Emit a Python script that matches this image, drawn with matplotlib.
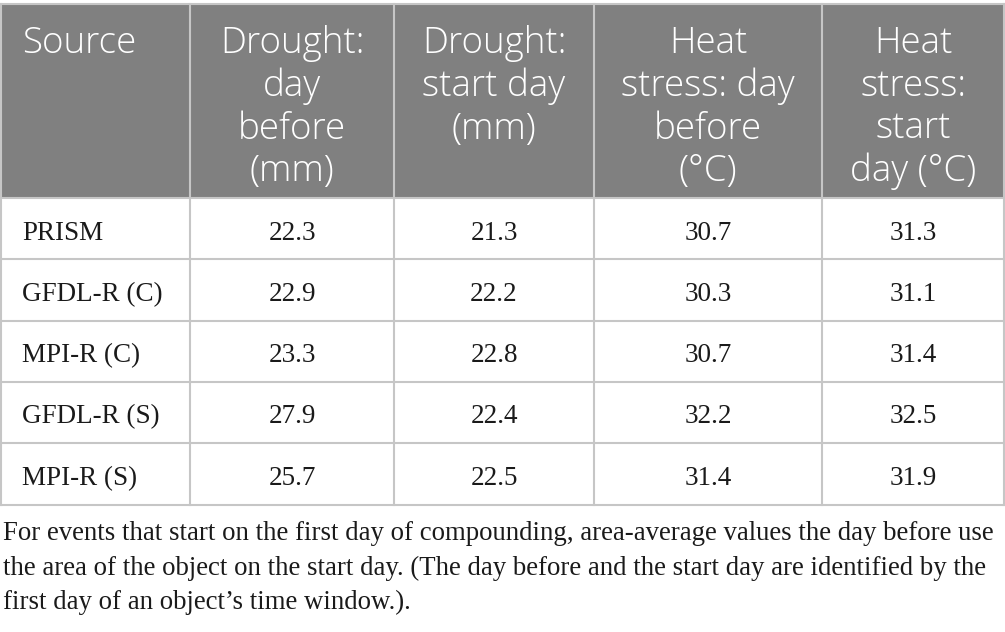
import matplotlib.pyplot as plt
from matplotlib.patches import Rectangle

headers = ["Source", "Drought:\nday\nbefore\n(mm)", "Drought:\nstart day\n(mm)",
           "Heat\nstress: day\nbefore\n(°C)", "Heat\nstress:\nstart\nday (°C)"]
sources = ["PRISM", "GFDL-R (C)", "MPI-R (C)", "GFDL-R (S)", "MPI-R (S)"]
drought_before = [22.3, 22.9, 23.3, 27.9, 25.7]
drought_start = [21.3, 22.2, 22.8, 22.4, 22.5]
heat_before = [30.7, 30.3, 30.7, 32.2, 31.4]
heat_start = [31.3, 31.1, 31.4, 32.5, 31.9]
caption = ("For events that start on the first day of compounding, area-average values the day before use\n"
           "the area of the object on the start day. (The day before and the start day are identified by the\n"
           "first day of an object\u2019s time window.).")

# layout in pixels
col_x = [1, 190, 394, 594, 822, 1004]
head_top, head_bot = 4, 198
row_h = 61.3
grid = "#c6c6c6"
head_bg = "#808080"

fig = plt.figure(figsize=(10.05, 6.32), dpi=100)
ax = fig.add_axes([0, 0, 1, 1])
ax.set_xlim(0, 1005)
ax.set_ylim(632, 0)
ax.axis("off")

# header
ax.add_patch(Rectangle((col_x[0], head_top), col_x[-1] - col_x[0], head_bot - head_top,
                       facecolor=head_bg, edgecolor="none"))
for i, h in enumerate(headers):
    if i == 0:
        ax.text(col_x[0] + 21, head_top + 21, h, ha="left", va="top", color="white",
                fontsize=26.5, family="Open Sans", fontweight="light", linespacing=1.2)
    else:
        cx = (col_x[i] + col_x[i + 1]) / 2
        ax.text(cx, head_top + 21, h, ha="center", va="top", color="white",
                fontsize=26.5, family="Open Sans", fontweight="light", linespacing=1.2,
                multialignment="center")

# body
columns = [drought_before, drought_start, heat_before, heat_start]
n = len(sources)
for r in range(n):
    top = head_bot + r * row_h
    base = top + 41.5
    ax.text(col_x[0] + 21, base, sources[r], ha="left", va="baseline",
            fontsize=19.5, family="Liberation Serif", color="#1a1a1a")
    for c, vals in enumerate(columns):
        cx = (col_x[c + 1] + col_x[c + 2]) / 2
        ax.text(cx, base, f"{vals[r]:.1f}", ha="center", va="baseline",
                fontsize=19.5, family="Liberation Serif", color="#1a1a1a")

bottom = head_bot + n * row_h
# grid lines
ax.plot([col_x[0], col_x[-1]], [head_top, head_top], color=grid, lw=1.5)
for r in range(n + 1):
    y = head_bot + r * row_h
    ax.plot([col_x[0], col_x[-1]], [y, y], color=grid, lw=1.5)
for x in col_x:
    ax.plot([x, x], [head_top, bottom], color=grid, lw=1.5)

ax.text(3, 521, caption, ha="left", va="top", fontsize=19.3, family="Liberation Serif",
        color="#1a1a1a", linespacing=1.5)

fig.savefig("out.png", dpi=100)
